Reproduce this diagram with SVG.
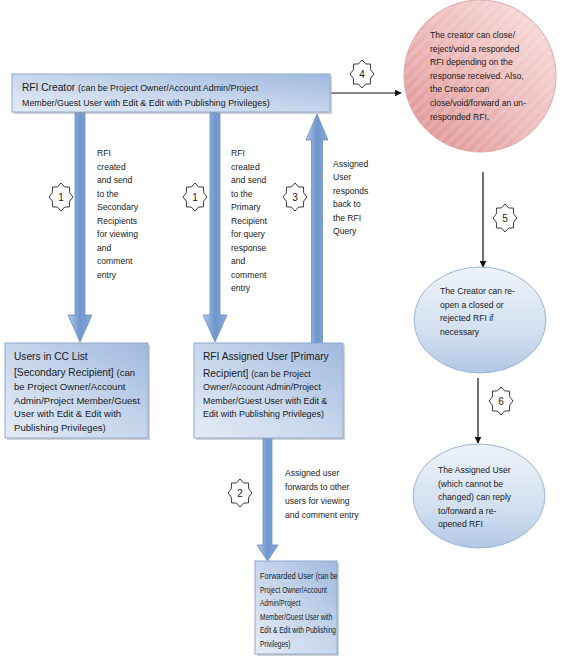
<svg xmlns="http://www.w3.org/2000/svg" width="569" height="669" viewBox="0 0 569 669">
<style>
text{font-family:"Liberation Sans",Arial,sans-serif;fill:#1a1a1a}
.s{font-size:8.6px}
.s2{font-size:8.9px}
.s3{font-size:9.6px}
.s4{font-size:8.4px}
.b{font-size:10.2px}
.b4{font-size:9.6px}
.n{font-size:10px;text-anchor:middle}
.box{fill:url(#gBox);stroke:#8faad2;stroke-width:1}
.shadow{fill:#9a9a9a;opacity:.45}
.thick{fill:url(#gArrow);stroke:#6a8fc4;stroke-width:.8}
.line{stroke:#111;stroke-width:1.2;fill:none;marker-end:url(#ah)}
.star{fill:#fff;stroke:#222;stroke-width:.9}
.ell{fill:url(#gEll);stroke:#9ab4da;stroke-width:1}
</style>
<defs>
<linearGradient id="gBox" x1="0" y1="1" x2="1" y2="0">
<stop offset="0" stop-color="#e4ebf6"/>
<stop offset="0.5" stop-color="#c7d6ec"/>
<stop offset="1" stop-color="#a0b9de"/>
</linearGradient>
<linearGradient id="gArrow" x1="0" y1="0" x2="1" y2="0">
<stop offset="0" stop-color="#b0c8e8"/>
<stop offset="0.5" stop-color="#6f96cd"/>
<stop offset="1" stop-color="#88aad8"/>
</linearGradient>
<linearGradient id="gEll" x1="0" y1="0" x2="0" y2="1">
<stop offset="0" stop-color="#eef3fa"/>
<stop offset="0.6" stop-color="#d3e0f0"/>
<stop offset="1" stop-color="#b3c8e5"/>
</linearGradient>
<linearGradient id="gCirc" x1="1" y1="0" x2="0" y2="1">
<stop offset="0" stop-color="#f8e0e0"/>
<stop offset="0.5" stop-color="#eebbbb"/>
<stop offset="1" stop-color="#dc8e8e"/>
</linearGradient>
<pattern id="stripes" width="8" height="8" patternUnits="userSpaceOnUse" patternTransform="rotate(45)">
<rect width="4" height="8" fill="#fff" opacity="0.12"/>
</pattern>
<marker id="ah" viewBox="0 0 10 10" refX="9" refY="5" markerWidth="7" markerHeight="7" markerUnits="userSpaceOnUse" orient="auto">
<path d="M0,0 L10,5 L0,10 Z" fill="#111"/>
</marker>
<path id="star" d="M0,-14 L3.58,-10.09 L8.49,-9.9 L8.65,-4.18 L12,0 L8.65,4.18 L8.49,9.9 L3.58,10.09 L0,14 L-3.58,10.09 L-8.49,9.9 L-8.65,4.18 L-12,0 L-8.65,-4.18 L-8.49,-9.9 L-3.58,-10.09 Z"/>
</defs>
<rect width="569" height="669" fill="#fff"/>

<g id="connectors">
<path class="thick" d="M75,112 H85 V315 H92 L80,342 L68,315 H75 Z"/>
<path class="thick" d="M210,112 H220 V315 H227 L215,342 L203,315 H210 Z"/>
<path class="thick" d="M317,114 L328,140 H322.5 V343 H311.5 V140 H306 Z"/>
<path class="thick" d="M263,438 H272 V545 H278 L267.5,561 L257,545 H263 Z"/>
<path class="line" d="M331,93 H401"/>
<path class="line" d="M483,172 V267"/>
<path class="line" d="M478,378 V443"/>
</g>

<g id="creator">
<rect class="shadow" x="14" y="76" width="318" height="38"/>
<rect class="box" x="12" y="74" width="318" height="38"/>
<text x="22" y="90.5"><tspan class="b">RFI Creator </tspan><tspan class="s2">(can be Project Owner/Account Admin/Project</tspan></text>
<text class="s2" x="22" y="106">Member/Guest User with Edit &amp; Edit with Publishing Privileges)</text>
</g>

<g id="circle-close">
<circle cx="480" cy="76" r="76" fill="url(#gCirc)" stroke="#e2a3a3" stroke-width="1"/>
<circle cx="480" cy="76" r="76" fill="url(#stripes)"/>
<text class="s" x="430" y="38">The creator can close/</text>
<text class="s" x="430" y="51.6">reject/void a responded</text>
<text class="s" x="430" y="65.2">RFI depending on the</text>
<text class="s" x="430" y="78.8">response received. Also,</text>
<text class="s" x="430" y="92.4">the Creator can</text>
<text class="s" x="430" y="106">close/void/forward an un-</text>
<text class="s" x="430" y="119.6">responded RFI.</text>
</g>

<g id="label-1a">
<use href="#star" class="star" x="61" y="197"/>
<text class="n" x="61" y="200.5">1</text>
<text class="s" x="97" y="156.3">RFI</text>
<text class="s" x="97" y="169.8">created</text>
<text class="s" x="97" y="183.3">and send</text>
<text class="s" x="97" y="196.8">to the</text>
<text class="s" x="97" y="210.3">Secondary</text>
<text class="s" x="97" y="223.8">Recipients</text>
<text class="s" x="97" y="237.3">for viewing</text>
<text class="s" x="97" y="250.8">and</text>
<text class="s" x="97" y="264.3">comment</text>
<text class="s" x="97" y="277.8">entry</text>
</g>

<g id="label-1b">
<use href="#star" class="star" x="195" y="197"/>
<text class="n" x="195" y="200.5">1</text>
<text class="s" x="231" y="156.3">RFI</text>
<text class="s" x="231" y="169.8">created</text>
<text class="s" x="231" y="183.3">and send</text>
<text class="s" x="231" y="196.8">to the</text>
<text class="s" x="231" y="210.3">Primary</text>
<text class="s" x="231" y="223.8">Recipient</text>
<text class="s" x="231" y="237.3">for query</text>
<text class="s" x="231" y="250.8">response</text>
<text class="s" x="231" y="264.3">and</text>
<text class="s" x="231" y="277.8">comment</text>
<text class="s" x="231" y="291.3">entry</text>
</g>

<g id="label-3">
<use href="#star" class="star" x="295" y="197"/>
<text class="n" x="295" y="200.5">3</text>
<text class="s" x="333" y="166.5">Assigned</text>
<text class="s" x="333" y="180">User</text>
<text class="s" x="333" y="193.5">responds</text>
<text class="s" x="333" y="207">back to</text>
<text class="s" x="333" y="220.5">the RFI</text>
<text class="s" x="333" y="234">Query</text>
</g>

<g id="badge-4">
<use href="#star" class="star" x="362" y="74"/>
<text class="n" x="362" y="77.5">4</text>
</g>

<g id="badge-5">
<use href="#star" class="star" x="505" y="218"/>
<text class="n" x="505" y="221.5">5</text>
</g>

<g id="badge-6">
<use href="#star" class="star" x="501" y="401"/>
<text class="n" x="501" y="404.5">6</text>
</g>

<g id="cc-users">
<rect class="shadow" x="7" y="345" width="143" height="95"/>
<rect class="box" x="5" y="343" width="143" height="95"/>
<text class="b" x="14" y="359.5">Users in CC List</text>
<text x="14" y="375.5"><tspan class="b">[Secondary Recipient] </tspan><tspan class="s3">(can</tspan></text>
<text class="s3" x="14" y="390">be Project Owner/Account</text>
<text class="s3" x="14" y="403.5">Admin/Project Member/Guest</text>
<text class="s3" x="14" y="417">User with Edit &amp; Edit with</text>
<text class="s3" x="14" y="430.5">Publishing Privileges)</text>
</g>

<g id="assigned-user">
<rect class="shadow" x="196" y="345" width="149" height="95"/>
<rect class="box" x="194" y="343" width="149" height="95"/>
<text class="b" x="203" y="359.5">RFI Assigned User [Primary</text>
<text x="203" y="376.8"><tspan class="b">Recipient] </tspan><tspan class="s2">(can be Project</tspan></text>
<text class="s2" x="203" y="390.3">Owner/Account Admin/Project</text>
<text class="s2" x="203" y="403.7">Member/Guest User with Edit &amp;</text>
<text class="s2" x="203" y="416.8">Edit with Publishing Privileges)</text>
</g>

<g id="label-2">
<use href="#star" class="star" x="240" y="493"/>
<text class="n" x="240" y="496.5">2</text>
<text class="s" x="285" y="476">Assigned user</text>
<text class="s" x="285" y="490">forwards to other</text>
<text class="s" x="285" y="504">users for viewing</text>
<text class="s" x="285" y="518">and comment entry</text>
</g>

<g id="forwarded-user">
<rect class="shadow" x="257" y="563" width="82" height="93"/>
<rect class="box" x="255" y="561" width="82" height="93"/>
<g transform="translate(260,0) scale(0.78,1) translate(-260,0)">
<text x="260" y="579"><tspan class="b4">Forwarded User </tspan><tspan class="s4">(can be</tspan></text>
<text class="s4" x="260" y="593">Project Owner/Account</text>
<text class="s4" x="260" y="606.5">Admin/Project</text>
<text class="s4" x="260" y="620">Member/Guest User with</text>
<text class="s4" x="260" y="633.5">Edit &amp; Edit with Publishing</text>
<text class="s4" x="260" y="647">Privileges)</text>
</g>
</g>

<g id="reopen">
<ellipse class="ell" cx="480" cy="320" rx="66" ry="53"/>
<text class="s" x="440" y="294">The Creator can re-</text>
<text class="s" x="440" y="307.5">open a closed or</text>
<text class="s" x="440" y="321">rejected RFI if</text>
<text class="s" x="440" y="334.5">necessary</text>
</g>

<g id="reply">
<ellipse class="ell" cx="479" cy="496" rx="66" ry="52"/>
<text class="s" x="438" y="473">The Assigned User</text>
<text class="s" x="438" y="486.5">(which cannot be</text>
<text class="s" x="438" y="500">changed) can reply</text>
<text class="s" x="438" y="513.5">to/forward a re-</text>
<text class="s" x="438" y="527">opened RFI</text>
</g>
</svg>
